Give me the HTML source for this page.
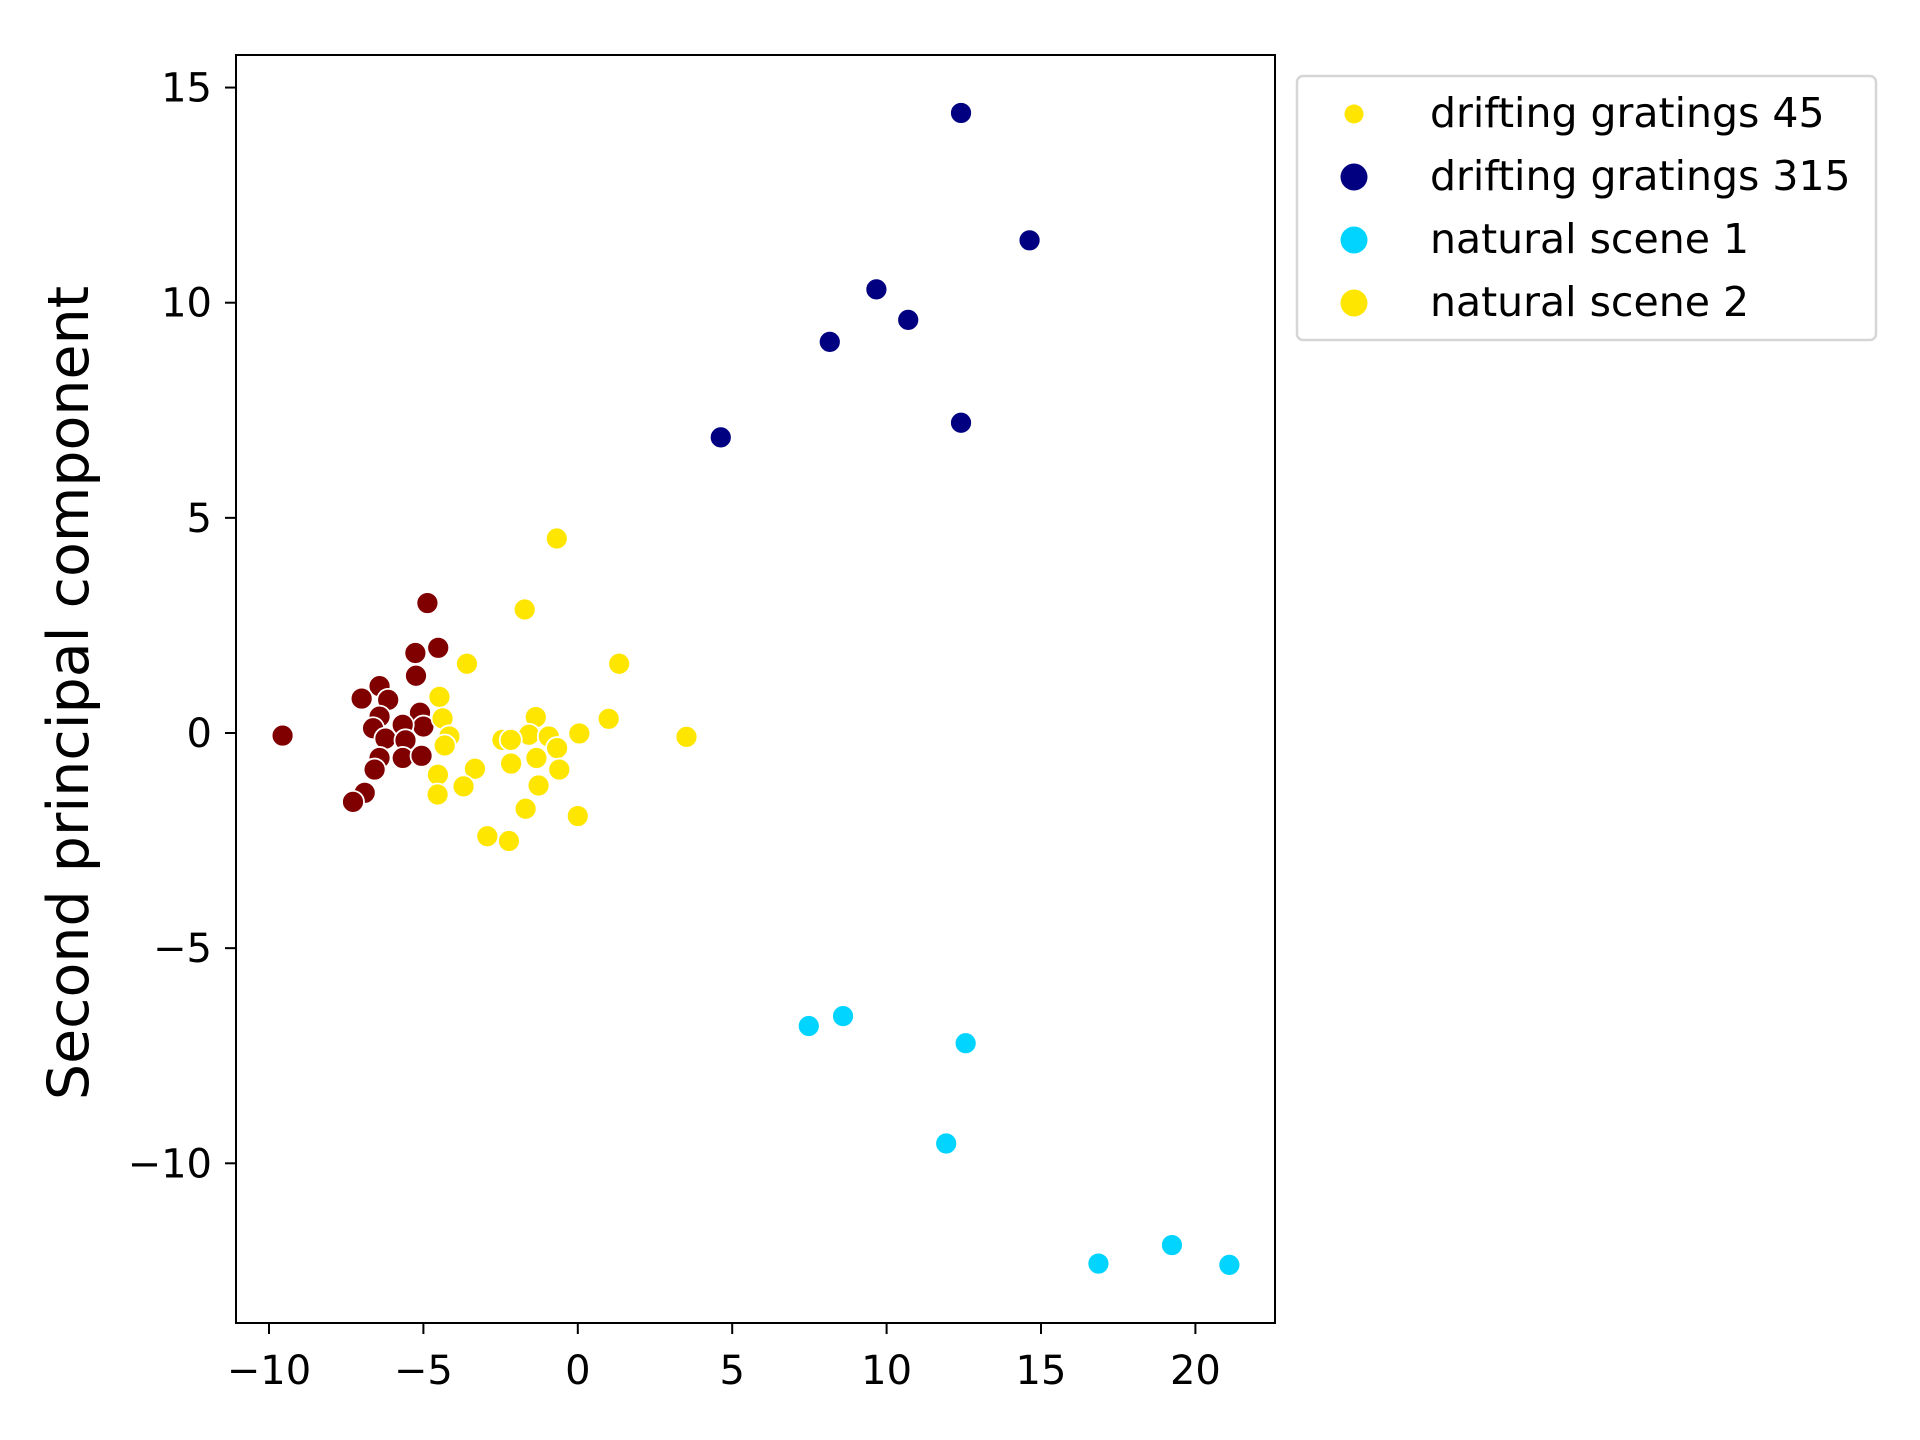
<!DOCTYPE html>
<html><head><meta charset="utf-8"><style>
html,body{margin:0;padding:0;background:#fff;}
svg{display:block;font-family:"DejaVu Sans","Liberation Sans",sans-serif;}
</style></head><body>
<svg id="chart" width="1920" height="1440" viewBox="0 0 1920 1440" xmlns="http://www.w3.org/2000/svg">
<rect x="0" y="0" width="1920" height="1440" fill="#fff"/>
<g id="marks"></g>
<rect x="236" y="55" width="1039" height="1268" fill="none" stroke="#000" stroke-width="2"/>
<g id="xticks"></g>
<g id="yticks"></g>
<text x="0" y="0" transform="translate(88,693) rotate(-90)" text-anchor="middle" font-size="57" fill="#000">Second principal component</text>
<g>
<rect x="1297" y="76" width="579" height="264" rx="6" fill="#fff" stroke="#d6d6d6" stroke-width="2.5"/>
<circle cx="1354" cy="114" r="9.5" fill="#ffe500"/>
<text x="1430" y="127" font-size="41">drifting gratings 45</text>
<circle cx="1354" cy="177" r="13.5" fill="#000080"/>
<text x="1430" y="190" font-size="41">drifting gratings 315</text>
<circle cx="1354" cy="240" r="13.5" fill="#00d4ff"/>
<text x="1430" y="253" font-size="41">natural scene 1</text>
<circle cx="1354" cy="303" r="13.5" fill="#ffe600"/>
<text x="1430" y="316" font-size="41">natural scene 2</text>
</g>
</svg>
<script>
const xTicks = [-10, -5, 0, 5, 10, 15, 20];
const yTicks = [-10, -5, 0, 5, 10, 15];
const navyX = [12.41, 14.63, 9.67, 10.70, 8.16, 12.41, 4.63];
const navyY = [14.41, 11.45, 10.31, 9.60, 9.09, 7.21, 6.87];
const cyanX = [7.48, 8.59, 12.56, 11.93, 16.86, 19.24, 21.1];
const cyanY = [-6.81, -6.58, -7.21, -9.54, -12.33, -11.90, -12.36];
const maroonX = [-4.87, -4.52, -5.26, -5.24, -6.42, -7.0, -6.14, -5.11, -6.42, -5.0, -6.63, -5.67, -6.23, -5.58, -5.67, -5.06, -6.42, -6.58, -6.9, -7.28, -9.56];
const maroonY = [3.02, 1.98, 1.86, 1.33, 1.09, 0.80, 0.77, 0.47, 0.38, 0.15, 0.11, 0.19, -0.13, -0.17, -0.58, -0.53, -0.58, -0.85, -1.39, -1.60, -0.06];
const yellowX = [-1.72, -3.59, 1.34, -4.48, -1.36, -4.38, 1.0, -4.16, 0.05, 3.52, -1.58, -0.94, -2.44, -2.17, -0.67, -4.31, -2.16, -1.34, -0.6, -3.33, -4.53, -3.7, -4.54, -1.27, -1.69, 0, -2.93, -2.23, -0.68];
const yellowY = [2.87, 1.61, 1.61, 0.84, 0.37, 0.34, 0.33, -0.08, -0.01, -0.09, -0.04, -0.08, -0.16, -0.16, -0.35, -0.29, -0.71, -0.58, -0.85, -0.83, -0.97, -1.24, -1.43, -1.22, -1.76, -1.93, -2.40, -2.51, 4.52];

const NS = 'http://www.w3.org/2000/svg';
function sx(v){ return 577.8 + v * 30.88; }
function sy(v){ return 733 - v * 43.03; }

const marks = document.getElementById('marks');
function drawSeries(xs, ys, color, name){
  for (let i = 0; i < xs.length; i++){
    const c = document.createElementNS(NS, 'circle');
    c.setAttribute('cx', sx(xs[i]));
    c.setAttribute('cy', sy(ys[i]));
    c.setAttribute('r', 11);
    c.setAttribute('fill', color);
    c.setAttribute('stroke', '#fff');
    c.setAttribute('stroke-width', 1.8);
    
    
    marks.appendChild(c);
  }
}
drawSeries(maroonX, maroonY, '#800000', 'maroon');
drawSeries(yellowX, yellowY, '#ffe600', 'natural-scene-2');
drawSeries(navyX, navyY, '#000080', 'drifting-gratings-315');
drawSeries(cyanX, cyanY, '#00d4ff', 'natural-scene-1');

const xg = document.getElementById('xticks');
xTicks.forEach(function(t){
  const l = document.createElementNS(NS, 'line');
  l.setAttribute('x1', sx(t)); l.setAttribute('x2', sx(t));
  l.setAttribute('y1', 1323); l.setAttribute('y2', 1334);
  l.setAttribute('stroke', '#000'); l.setAttribute('stroke-width', 2);
  
  
  xg.appendChild(l);
  const tx = document.createElementNS(NS, 'text');
  tx.setAttribute('x', sx(t)); tx.setAttribute('y', 1384);
  tx.setAttribute('text-anchor', 'middle'); tx.setAttribute('font-size', 40);
  tx.textContent = (t < 0 ? '\u2212' + Math.abs(t) : String(t));
  
  
  xg.appendChild(tx);
});
const yg = document.getElementById('yticks');
yTicks.forEach(function(t){
  const l = document.createElementNS(NS, 'line');
  l.setAttribute('x1', 225); l.setAttribute('x2', 236);
  l.setAttribute('y1', sy(t)); l.setAttribute('y2', sy(t));
  l.setAttribute('stroke', '#000'); l.setAttribute('stroke-width', 2);
  
  
  yg.appendChild(l);
  const tx = document.createElementNS(NS, 'text');
  tx.setAttribute('x', 212); tx.setAttribute('y', sy(t) + 14);
  tx.setAttribute('text-anchor', 'end'); tx.setAttribute('font-size', 40);
  tx.textContent = (t < 0 ? '\u2212' + Math.abs(t) : String(t));
  
  
  yg.appendChild(tx);
});
</script>
</body></html>
